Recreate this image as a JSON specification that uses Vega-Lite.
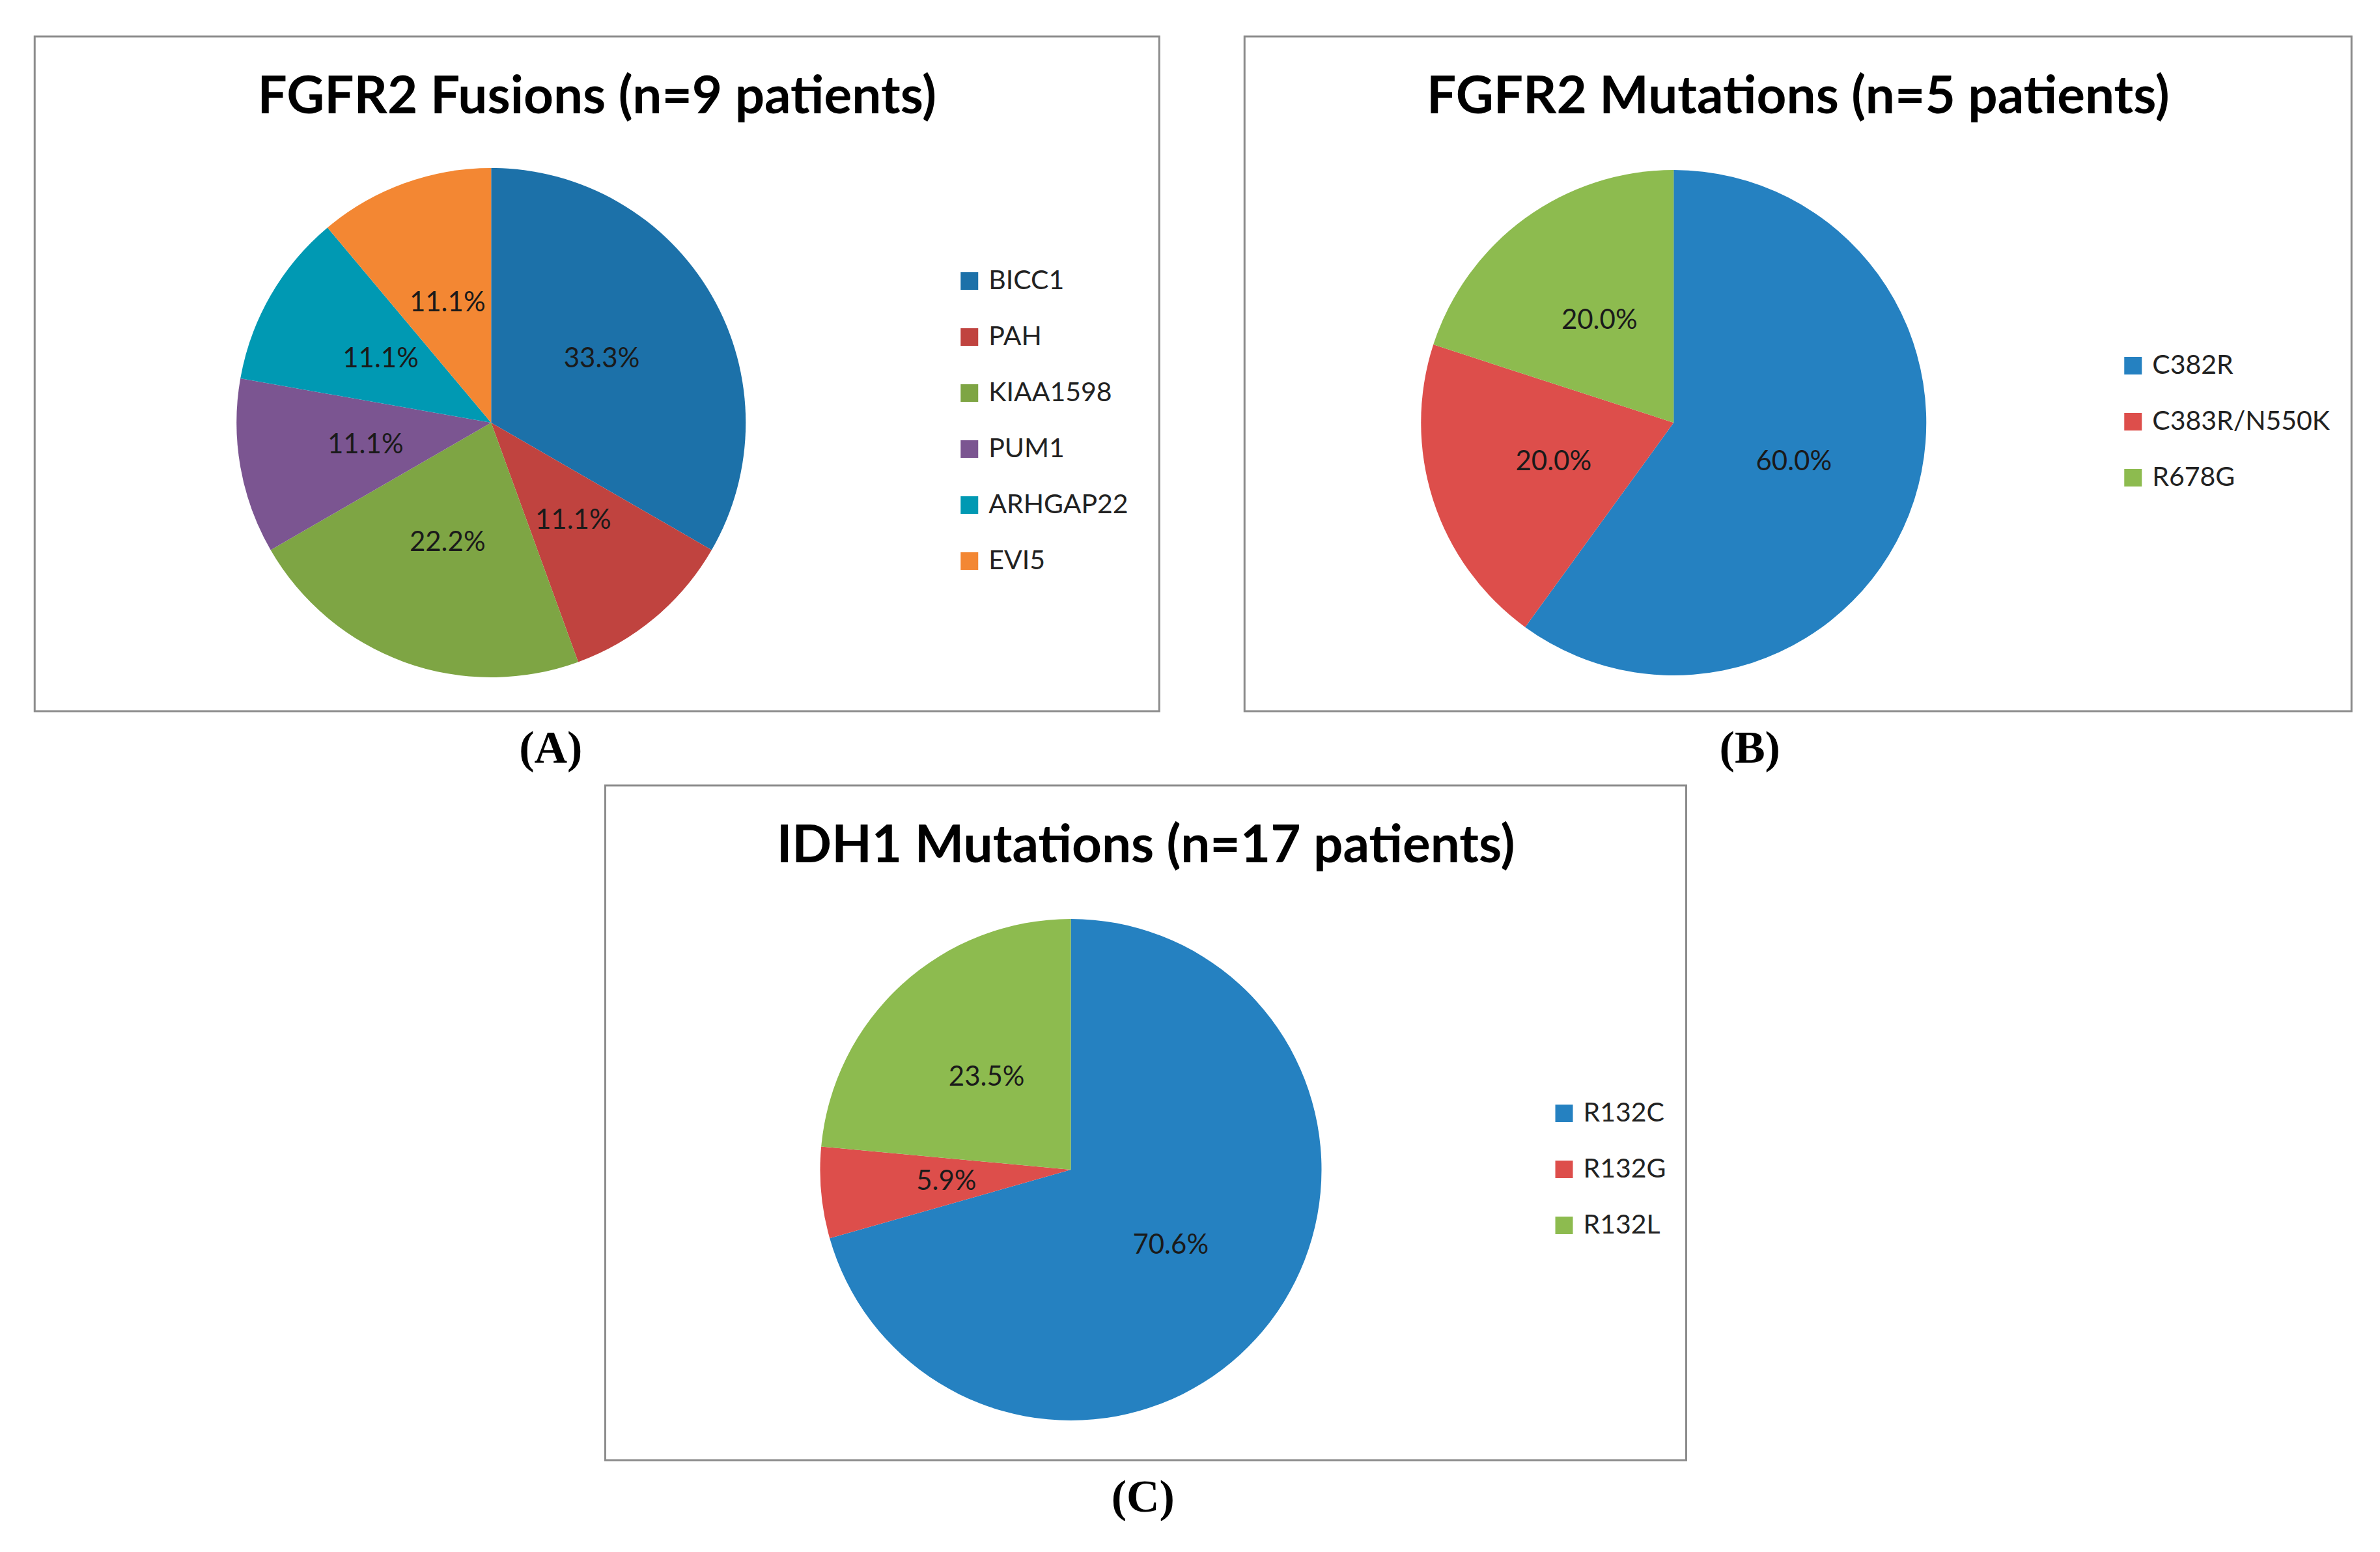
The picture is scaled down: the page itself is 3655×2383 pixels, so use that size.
{
  "$schema": "https://vega.github.io/schema/vega-lite/v6.json",
  "background": "white",
  "padding": {"left": 51, "top": 54, "right": 0, "bottom": 0},
  "autosize": {"type": "pad"},
  "datasets": {
    "fusions": [
      {"partner": "BICC1", "count": 3, "pct": "33.3%", "k": 1},
      {"partner": "PAH", "count": 1, "pct": "11.1%", "k": 2},
      {"partner": "KIAA1598", "count": 2, "pct": "22.2%", "k": 3},
      {"partner": "PUM1", "count": 1, "pct": "11.1%", "k": 4},
      {"partner": "ARHGAP22", "count": 1, "pct": "11.1%", "k": 5},
      {"partner": "EVI5", "count": 1, "pct": "11.1%", "k": 6}
    ],
    "fgfr2mut": [
      {"variant": "C382R", "count": 3, "pct": "60.0%", "k": 1},
      {"variant": "C383R/N550K", "count": 1, "pct": "20.0%", "k": 2},
      {"variant": "R678G", "count": 1, "pct": "20.0%", "k": 3}
    ],
    "idh1mut": [
      {"variant": "R132C", "count": 12, "pct": "70.6%", "k": 1},
      {"variant": "R132G", "count": 1, "pct": "5.9%", "k": 2},
      {"variant": "R132L", "count": 4, "pct": "23.5%", "k": 3}
    ]
  },
  "config": {
    "view": {"stroke": "#8c8c8c", "strokeWidth": 3},
    "title": {"font": "Lato", "fontSize": 80, "fontWeight": "bold", "color": "#000000", "offset": -135, "baseline": "middle", "anchor": "middle", "frame": "group"},
    "legend": {"labelFont": "Lato", "labelFontSize": 41, "labelColor": "#222222", "symbolType": "square", "symbolSize": 729, "symbolStrokeWidth": 0, "rowPadding": 44, "labelOffset": 9, "labelLimit": 800, "padding": 0, "orient": "none", "title": null},
    "arc": {"strokeWidth": 0},
    "text": {"font": "Lato", "fontSize": 42, "fill": "#1a1a1a"}
  },
  "center": true,
  "spacing": 19,
  "resolve": {"scale": {"color": "independent"}, "legend": {"color": "independent"}},
  "vconcat": [
    {
      "hconcat": [
        {
          "title": {"text": "(A)", "orient": "bottom", "font": "Liberation Serif", "fontSize": 70, "fontWeight": "bold", "offset": 22, "baseline": "top", "dx": -71, "frame": "bounds", "anchor": "middle"},
          "vconcat": [
            {
              "width": 1727, "height": 1036,
              "view": {"stroke": "#8c8c8c", "strokeWidth": 3, "fill": "white"},
              "title": {"text": "FGFR2 Fusions (n=9 patients)"},
              "data": {"name": "fusions"},
              "encoding": {
                "theta": {"field": "count", "type": "quantitative", "stack": true},
                "order": {"field": "k", "type": "quantitative"}
              },
              "layer": [
                {
                  "mark": {"type": "arc", "outerRadius": 391, "x": 701, "y": 593},
                  "encoding": {
                    "color": {"field": "partner", "type": "nominal", "sort": null,
                      "scale": {"domain": ["BICC1", "PAH", "KIAA1598", "PUM1", "ARHGAP22", "EVI5"], "range": ["#1c71a9", "#c0433f", "#7ea544", "#7b5591", "#0099b3", "#f38733"]},
                      "legend": {"orient": "none", "legendX": 1415, "legendY": 355}}
                  }
                },
                {
                  "mark": {"type": "text", "radius": 196, "x": 701, "y": 593},
                  "encoding": {
                    "detail": {"field": "partner", "type": "nominal"},
                    "text": {"field": "pct", "type": "nominal"}
                  }
                }
              ]
            }
          ]
        },
        {
          "title": {"text": "(B)", "orient": "bottom", "font": "Liberation Serif", "fontSize": 70, "fontWeight": "bold", "offset": 22, "baseline": "top", "dx": -74, "frame": "bounds", "anchor": "middle"},
          "vconcat": [
            {
              "width": 1700, "height": 1036,
              "view": {"stroke": "#8c8c8c", "strokeWidth": 3, "fill": "white"},
              "title": {"text": "FGFR2 Mutations (n=5 patients)"},
              "data": {"name": "fgfr2mut"},
              "encoding": {
                "theta": {"field": "count", "type": "quantitative", "stack": true},
                "order": {"field": "k", "type": "quantitative"}
              },
              "layer": [
                {
                  "mark": {"type": "arc", "outerRadius": 388, "x": 659, "y": 593},
                  "encoding": {
                    "color": {"field": "variant", "type": "nominal", "sort": null,
                      "scale": {"domain": ["C382R", "C383R/N550K", "R678G"], "range": ["#2581c1", "#dd4e4b", "#8dbb4f"]},
                      "legend": {"orient": "none", "legendX": 1344, "legendY": 485}}
                  }
                },
                {
                  "mark": {"type": "text", "radius": 194, "x": 659, "y": 593},
                  "encoding": {
                    "detail": {"field": "variant", "type": "nominal"},
                    "text": {"field": "pct", "type": "nominal"}
                  }
                }
              ]
            }
          ]
        }
      ],
      "spacing": 127,
      "resolve": {"scale": {"color": "independent"}, "legend": {"color": "independent"}}
    },
    {
      "title": {"text": "(C)", "orient": "bottom", "font": "Liberation Serif", "fontSize": 70, "fontWeight": "bold", "offset": 22, "baseline": "top", "dx": -77, "frame": "bounds", "anchor": "middle"},
      "vconcat": [
        {
          "width": 1660, "height": 1036,
          "view": {"stroke": "#8c8c8c", "strokeWidth": 3, "fill": "white"},
          "title": {"text": "IDH1 Mutations (n=17 patients)"},
          "data": {"name": "idh1mut"},
          "encoding": {
            "theta": {"field": "count", "type": "quantitative", "stack": true},
            "order": {"field": "k", "type": "quantitative"}
          },
          "layer": [
            {
              "mark": {"type": "arc", "outerRadius": 385, "x": 715, "y": 590},
              "encoding": {
                "color": {"field": "variant", "type": "nominal", "sort": null,
                  "scale": {"domain": ["R132C", "R132G", "R132L"], "range": ["#2581c1", "#dd4e4b", "#8dbb4f"]},
                  "legend": {"orient": "none", "legendX": 1274, "legendY": 305, "padding": 178}}
              }
            },
            {
              "mark": {"type": "text", "radius": 192, "x": 715, "y": 590},
              "encoding": {
                "detail": {"field": "variant", "type": "nominal"},
                "text": {"field": "pct", "type": "nominal"}
              }
            }
          ]
        }
      ]
    }
  ]
}
